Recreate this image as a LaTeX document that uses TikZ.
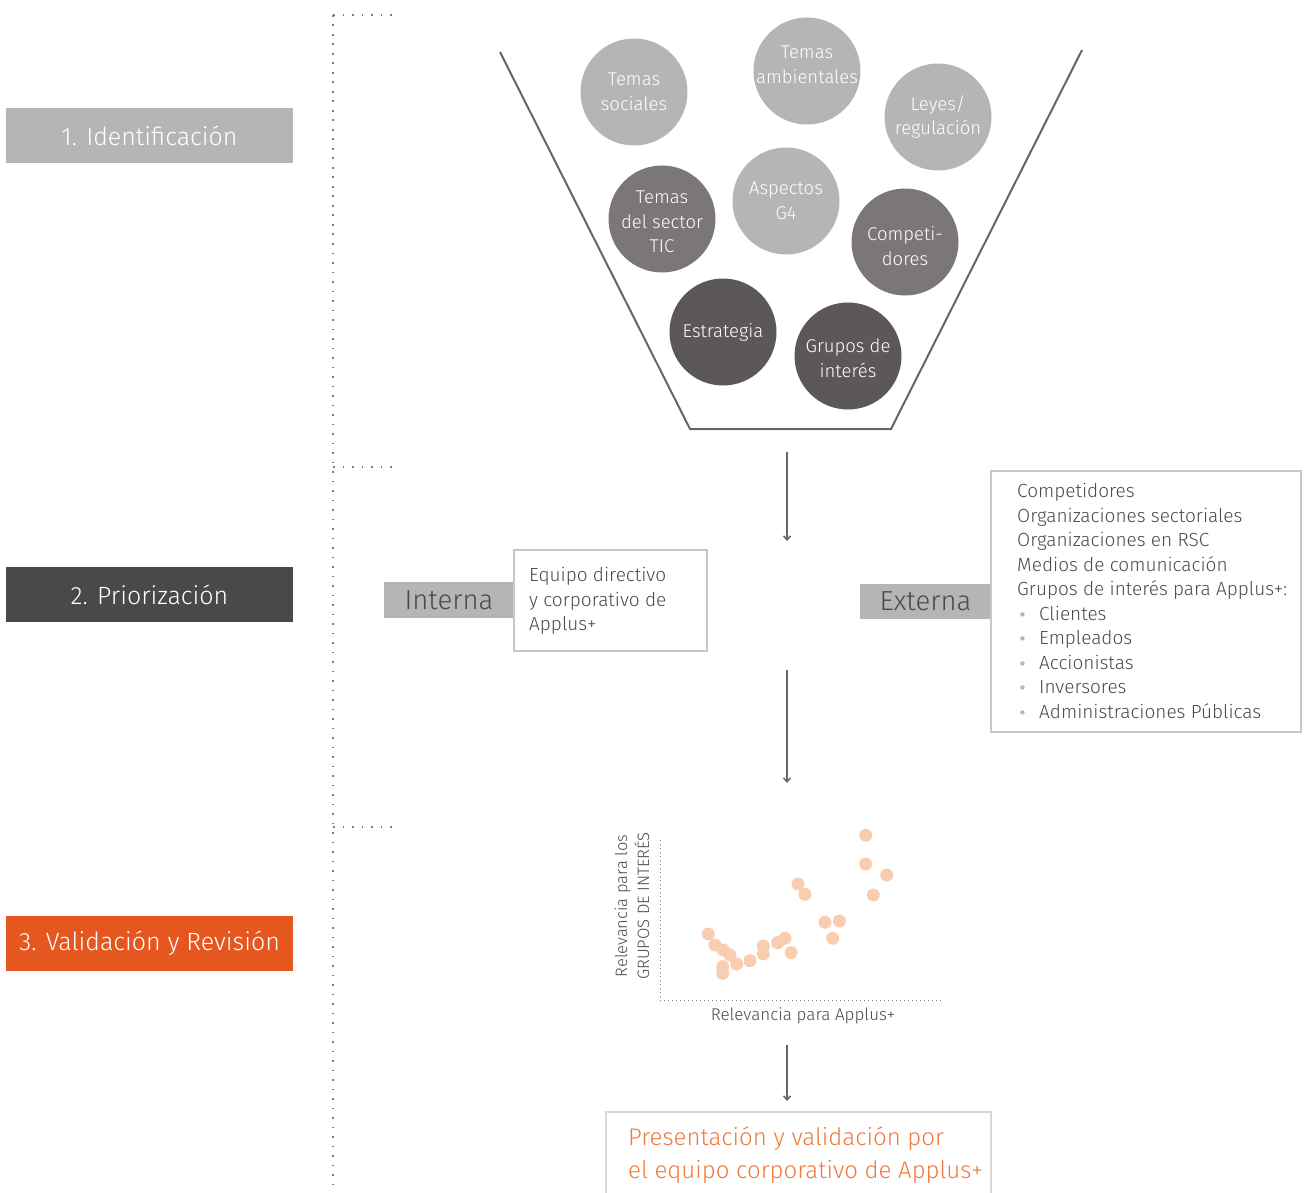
\documentclass[tikz,border=0pt]{standalone}
\usepackage{fontspec}
\setmainfont{Fira Sans}[UprightFont=* Light]
\newfontfamily\dejavu{DejaVu Sans}
\usetikzlibrary{arrows.meta}
\definecolor{lgray}{HTML}{B5B5B5}
\definecolor{mgray}{HTML}{7B7776}
\definecolor{dgray}{HTML}{5C5857}
\definecolor{stagedark}{HTML}{494949}
\definecolor{orng}{HTML}{E5571F}
\definecolor{orngtext}{HTML}{EF7A3E}
\definecolor{txt}{HTML}{4A4A4A}
\definecolor{linec}{HTML}{666666}
\definecolor{boxc}{HTML}{C8C8C8}
\definecolor{peach}{HTML}{F9CDB0}
\definecolor{dotc}{HTML}{7A7A7A}
\tikzset{
  stage/.style={rectangle, minimum width=287pt, minimum height=55pt, inner sep=0pt, text=white, font=\fontsize{25}{28}\selectfont},
  bubble/.style={circle, minimum size=107pt, inner sep=0pt, text=white, align=center, font=\fontsize{18.5}{24.5}\selectfont},
  btext/.style={inner sep=0pt, text=white, align=center, font=\fontsize{18.5}{24.5}\selectfont},
  arr/.style={draw=linec, line width=1.5pt, -{Straight Barb[length=4pt,width=7pt]}},
  dotl/.style={draw=dotc, line width=1.8pt, dash pattern=on 1.8pt off 7.7pt},
  tag/.style={rectangle, fill=lgray, inner sep=0pt, text=txt, font=\fontsize{27.5}{30}\selectfont},
  lbox/.style={rectangle, draw=boxc, line width=2pt, inner sep=0pt},
  pt/.style={circle, fill=peach, inner sep=0pt, minimum size=13pt},
  body/.style={text=txt, align=left, inner sep=0pt, font=\fontsize{19}{24.5}\selectfont},
}
\begin{document}
\begin{tikzpicture}[x=1pt,y=-1pt]
\useasboundingbox (0,0) rectangle (1306,1193);
% dotted timeline
\draw[dotl] (333,15) -- (333,1193);
\draw[dotl] (333,15) -- (395,15);
\draw[dotl] (333,467) -- (395,467);
\draw[dotl] (333,827) -- (395,827);
% stages
\node[stage, fill=lgray] (s1) at (149.5,135.5) {1. Identificación};
\node[stage, fill=stagedark] (s2) at (149.5,594.5) {2. Priorización};
\node[stage, fill=orng] (s3) at (149.5,943.5) {3. Validación y Revisión};
% funnel
\draw[linec, line width=2pt] (500,52) -- (690,429) -- (891,429) -- (1082,50);
% bubbles
\node[bubble, fill=lgray] (b1) at (634,92) {Temas\\sociales};
\node[bubble, fill=lgray] (b2) at (807,71) {};
\node[btext] (b2t) at (807,65) {Temas\\ambientales};
\node[bubble, fill=lgray] (b3) at (938,117) {Leyes/\\regulación};
\node[bubble, fill=mgray] (b4) at (662,219) {};
\node[btext] (b4t) at (662,222) {Temas\\del sector\\TIC};
\node[bubble, fill=lgray] (b5) at (786,201) {Aspectos\\G4};
\node[bubble, fill=mgray] (b6) at (905,242) {};
\node[btext] (b6t) at (905,246) {Competi-\\dores};
\node[bubble, fill=dgray] (b7) at (723,332) {Estrategia};
\node[bubble, fill=dgray] (b8) at (848,356) {};
\node[btext] (b8t) at (848,358) {Grupos de\\interés};
% arrows
\coordinate (a1s) at (787,452); \coordinate (a1e) at (787,541);
\coordinate (a2s) at (787,670); \coordinate (a2e) at (787,783);
\coordinate (a3s) at (787,1045); \coordinate (a3e) at (787,1101);
\draw[arr] (a1s) -- (a1e);
\draw[arr] (a2s) -- (a2e);
\draw[arr] (a3s) -- (a3e);
% interna
\node[tag, minimum width=130pt, minimum height=36pt] (int) at (449,600) {Interna};
\node[lbox, minimum width=193pt, minimum height=101pt] (intbox) at (610.5,600.5) {};
\node[body, anchor=west] (inttext) at (529,601) {Equipo directivo\\y corporativo de\\Applus+};
% externa
\node[tag, minimum width=131pt, minimum height=35pt] (ext) at (925.5,601.5) {Externa};
\node[lbox, minimum width=310pt, minimum height=261pt] (extbox) at (1146,601.5) {};
\newcommand{\bul}{\makebox[22pt][l]{\hspace{1pt}\textcolor{lgray}{\dejavu\fontsize{15}{15}\selectfont •}}}
\node[body, anchor=west] (exttext) at (1017,601) {Competidores\\Organizaciones sectoriales\\Organizaciones en RSC\\Medios de comunicación\\Grupos de interés para Applus+:\\\bul Clientes\\\bul Empleados\\\bul Accionistas\\\bul Inversores\\\bul Administraciones Públicas};
% scatter
\coordinate (ytop) at (660,840);
\coordinate (orig) at (660,1000);
\coordinate (xend) at (944,1000);
\draw[dotc, line width=1pt, dash pattern=on 1pt off 3pt] (ytop) -- (orig) -- (xend);
\node[text=txt, inner sep=0pt, font=\fontsize{17}{20}\selectfont] (xl) at (803,1016) {Relevancia para Applus+};
\node[text=txt, inner sep=0pt, rotate=90, align=center, font=\fontsize{16.5}{22}\selectfont] (yl) at (632,906) {Relevancia para los\\GRUPOS DE INTERÉS};
\foreach \i/\x/\y in {1/708.3/934,2/715/945,3/723.3/950,4/730/955,5/722.7/966.7,6/722.7/973.3,7/736.7/964,8/750/960.7,9/763.3/946,10/763.3/954,11/777.7/942.7,12/785/938.3,13/791/952.7,14/798/884,15/805/894.3,16/825/922.3,17/839.3/921,18/832.7/938.3,19/865.7/835.3,20/865.7/864,21/886.7/875,22/873.3/895}
  \node[pt] (p\i) at (\x,\y) {};
% final box
\draw[boxc!70, line width=2pt] (606,1200) -- (606,1112) -- (991,1112) -- (991,1200);
\node[text=orngtext, align=left, inner sep=0pt, anchor=west, font=\fontsize{24}{33}\selectfont] (fin) at (628,1155) {Presentación y validación por\\el equipo corporativo de Applus+};
\end{tikzpicture}
\end{document}
